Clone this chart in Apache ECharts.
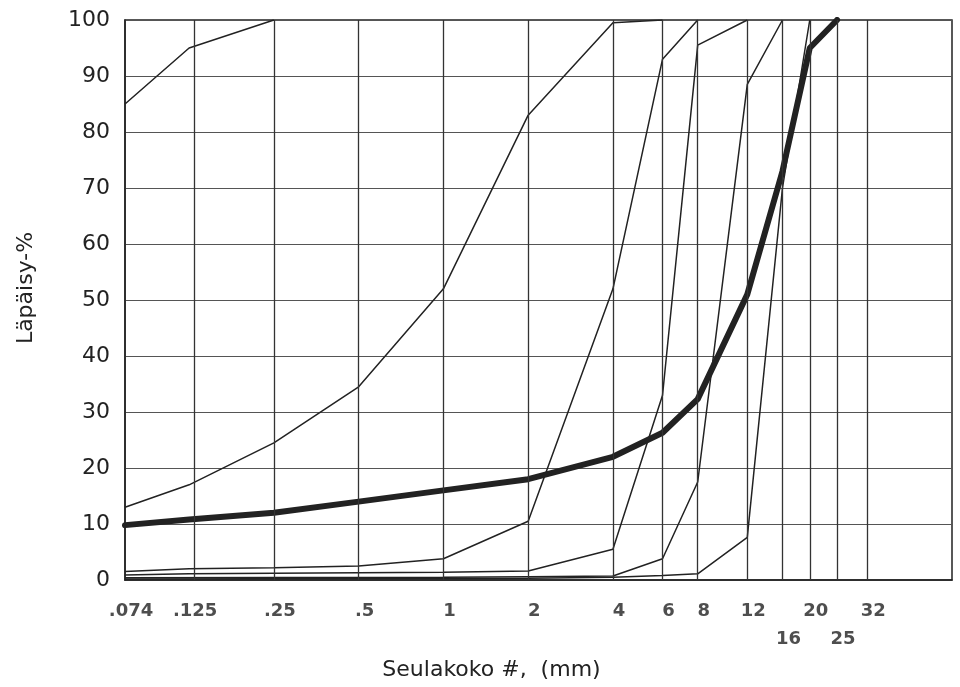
<!DOCTYPE html>
<html>
<head>
<meta charset="utf-8">
<script src="https://cdn.jsdelivr.net/npm/echarts@6/dist/echarts.min.js"></script>
<style>
html,body{margin:0;padding:0;background:#fff;}
#chart{width:960px;height:687px;}
</style>
</head>
<body>
<div id="chart"></div>
<script>
// Sieve sizes (mm) and their tick labels
const sieveSizes = [0.074, 0.125, 0.25, 0.5, 1, 2, 4, 6, 8, 12, 16, 20, 25, 32];
const sieveLabels = ['.074', '.125', '.25', '.5', '1', '2', '4', '6', '8', '12', '16', '20', '25', '32'];
const secondRowLabels = ['16', '25'];
const yTicks = [0, 10, 20, 30, 40, 50, 60, 70, 80, 90, 100];

// Thin grading curves: [sieve size mm, passing %]
const curveA = [[0.074, 85], [0.125, 95], [0.25, 100]];
const curveB = [[0.074, 13], [0.125, 17], [0.25, 24.5], [0.5, 34.5], [1, 52], [2, 83], [4, 99.5], [6, 100]];
const curveC = [[0.074, 1.5], [0.125, 2], [0.25, 2.2], [0.5, 2.5], [1, 3.8], [2, 10.5], [4, 52], [6, 93], [8, 100]];
const curveD = [[0.074, 0.9], [0.125, 1.1], [0.25, 1.2], [0.5, 1.3], [1, 1.4], [2, 1.6], [4, 5.5], [6, 33], [8, 95.5], [12, 100]];
const curveE = [[0.074, 0.4], [1, 0.5], [2, 0.6], [4, 0.7], [6, 3.8], [8, 17.5], [12, 88.5], [16, 100]];
const curveF = [[0.074, 0.2], [2, 0.3], [4, 0.5], [6, 0.8], [8, 1.1], [12, 7.6], [16, 70], [20, 100]];
// Thick sample curve
const sampleCurve = [[0.074, 9.8], [0.125, 10.8], [0.25, 12], [0.5, 14], [1, 16], [2, 18], [4, 22], [6, 26.3], [8, 32.3], [12, 51], [16, 73], [20, 95], [25, 100]];

const thinCurves = [curveA, curveB, curveC, curveD, curveE, curveF];

const chart = echarts.init(document.getElementById('chart'), null, {renderer: 'canvas'});
const FONT = 'DejaVu Sans';
const INK = '#222';

const series = [];
// vertical grid lines at sieve sizes
series.push({
  type: 'line', data: [], silent: true, z: 1,
  markLine: {
    silent: true, symbol: ['none', 'none'], animation: false,
    label: {show: false},
    lineStyle: {color: '#333', width: 1.3, type: 'solid'},
    data: sieveSizes.map(v => ({xAxis: v}))
  }
});
thinCurves.forEach(c => {
  series.push({
    type: 'line', data: c, symbol: 'none', z: 3, clip: true,
    lineStyle: {color: INK, width: 1.5}
  });
});
series.push({
  type: 'line', data: sampleCurve, symbol: 'none', z: 4,
  lineStyle: {color: INK, width: 6, join: 'round', cap: 'round'}
});
// tick labels under the axis
series.push({
  type: 'scatter', z: 5, clip: false, silent: true, symbolSize: 1,
  itemStyle: {color: 'rgba(0,0,0,0)'},
  data: sieveSizes.map((v, i) => ({
    value: [v, 0],
    label: {distance: secondRowLabels.indexOf(sieveLabels[i]) >= 0 ? 50 : 22}
  })),
  label: {
    show: true, position: 'bottom', offset: [6, 0],
    formatter: p => sieveLabels[p.dataIndex],
    color: INK, fontFamily: FONT, fontSize: 18, fontWeight: 'bold'
  }
});

chart.setOption({
  animation: false,
  backgroundColor: '#fff',
  grid: {left: 125, right: 8, top: 20, bottom: 107, show: true, borderColor: INK, borderWidth: 1.5},
  xAxis: {
    type: 'log', logBase: 2, min: 0.074, max: 64,
    axisLabel: {show: false}, axisTick: {show: false},
    splitLine: {show: false}, minorSplitLine: {show: false},
    axisLine: {lineStyle: {color: INK, width: 1.5}},
    name: 'Seulakoko #,  (mm)', nameLocation: 'middle', nameGap: 79,
    nameTextStyle: {color: INK, fontFamily: FONT, fontSize: 22, padding: [0, 94, 0, 0]}
  },
  yAxis: {
    type: 'value', min: yTicks[0], max: yTicks[yTicks.length - 1], interval: 10,
    axisLabel: {color: INK, fontFamily: FONT, fontSize: 22, margin: 15},
    axisTick: {show: false},
    axisLine: {show: true, lineStyle: {color: INK, width: 1.5}},
    splitLine: {show: true, lineStyle: {color: '#555', width: 1.2}},
    name: 'Läpäisy-%', nameLocation: 'middle', nameGap: 88, nameRotate: 90,
    nameTextStyle: {color: INK, fontFamily: FONT, fontSize: 22, padding: [0, 0, 0, 24]}
  },
  series: series
});
</script>
</body>
</html>
